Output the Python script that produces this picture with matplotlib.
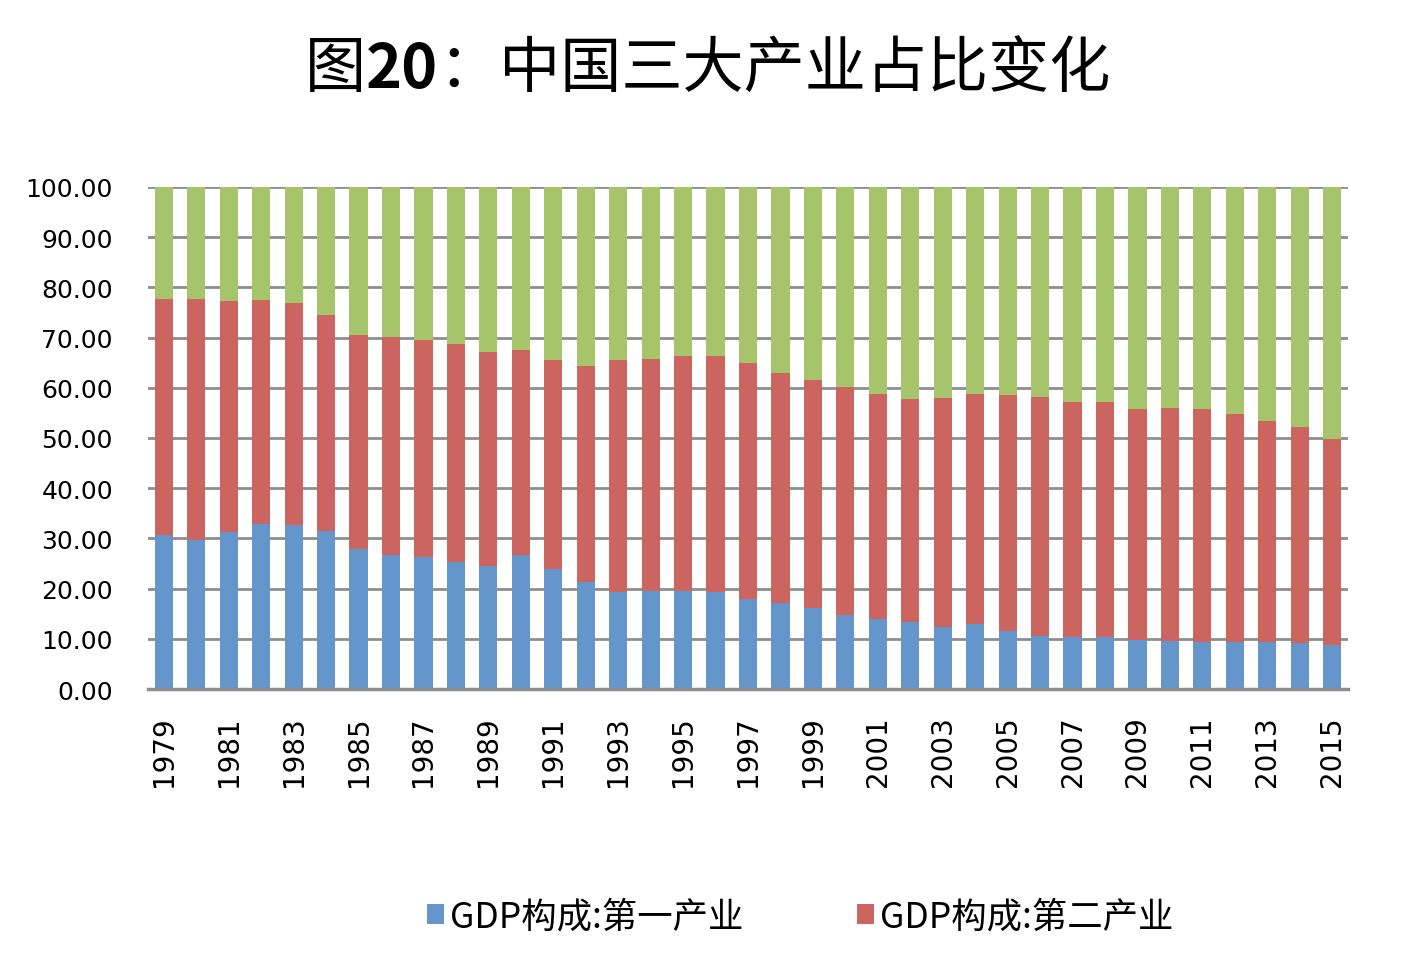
import numpy as np
import matplotlib
matplotlib.use('Agg')
import matplotlib.pyplot as plt

plt.rcParams['font.family'] = ['Noto Sans CJK SC', 'DejaVu Sans']

years = list(range(1979, 2016))
primary = [30.7, 29.6, 31.3, 32.8, 32.6, 31.5, 27.9, 26.6, 26.3, 25.2,
           24.6, 26.6, 24.0, 21.3, 19.3, 19.5, 19.6, 19.3, 17.9, 17.2,
           16.1, 14.7, 14.0, 13.3, 12.3, 12.9, 11.6, 10.6, 10.3, 10.3,
           9.8, 9.5, 9.4, 9.4, 9.3, 9.1, 8.8]
secondary = [47.0, 48.1, 46.0, 44.6, 44.2, 42.9, 42.7, 43.5, 43.3, 43.5,
             42.5, 41.0, 41.5, 43.1, 46.2, 46.2, 46.8, 47.1, 47.1, 45.8,
             45.4, 45.5, 44.8, 44.5, 45.6, 45.9, 47.0, 47.6, 46.9, 46.9,
             45.9, 46.4, 46.4, 45.3, 44.0, 43.1, 40.9]
tertiary = [22.3, 22.3, 22.7, 22.6, 23.2, 25.6, 29.4, 29.9, 30.4, 31.3,
            32.9, 32.4, 34.5, 35.6, 34.5, 34.3, 33.6, 33.6, 35.0, 37.0,
            38.5, 39.8, 41.2, 42.2, 42.1, 41.2, 41.4, 41.8, 42.8, 42.8,
            44.3, 44.1, 44.2, 45.3, 46.7, 47.8, 50.3]
names = ['GDP构成:第一产业', 'GDP构成:第二产业', 'GDP构成:第三产业']
colors = ['#6596CB', '#CC6460', '#A6C46A']

x = np.arange(len(years))
p = np.array(primary)
s = np.array(secondary)
t = np.array(tertiary)

fig = plt.figure(figsize=(14.06, 9.62), dpi=100)
ax = fig.add_axes([0.105, 0.2827, 0.854, 0.522])

b1 = ax.bar(x, p, width=0.56, color=colors[0], label=names[0])
b2 = ax.bar(x, s, width=0.56, bottom=p, color=colors[1], label=names[1])
b3 = ax.bar(x, t, width=0.56, bottom=p + s, color=colors[2], label=names[2])

ax.set_xlim(-0.5, len(years) - 0.5)
ax.set_ylim(0, 100)
ax.set_yticks(np.arange(0, 101, 10))
ax.set_yticklabels(['%.2f' % v for v in np.arange(0, 101, 10)],
                   family='DejaVu Sans', fontsize=18, color='black')
ax.set_xticks(x[::2])
ax.set_xticklabels([str(y) for y in years[::2]], rotation=90,
                   family='DejaVu Sans', fontsize=20, color='black')
ax.tick_params(axis='y', length=0, pad=25)
ax.tick_params(axis='x', length=0, pad=19)

ax.set_axisbelow(True)
ax.yaxis.grid(True, color='#8E8E8E', linewidth=2.0)
for sp in ['top', 'right', 'left']:
    ax.spines[sp].set_visible(False)
ax.spines['bottom'].set_color('#8E8E8E')
ax.spines['bottom'].set_linewidth(2.5)

# title, "20" in bold
t1 = fig.text(0.217, 0.927, '图', fontsize=44, va='center', ha='left')
t2 = ax.annotate('20', xy=(1, 0), xycoords=t1, fontsize=44, fontweight='bold',
                 va='bottom', ha='left', annotation_clip=False)
t3 = ax.annotate('：中国三大产业占比变化', xy=(1, 0), xycoords=t2, fontsize=44,
                 va='bottom', ha='left', annotation_clip=False)

fig.legend(handles=[b1, b2], loc='center left', bbox_to_anchor=(0.281, 0.046),
           ncol=2, frameon=False, fontsize=25.5, handlelength=0.49,
           handleheight=0.5, handletextpad=0.17, columnspacing=3.2)

plt.savefig('out.png', dpi=100)
